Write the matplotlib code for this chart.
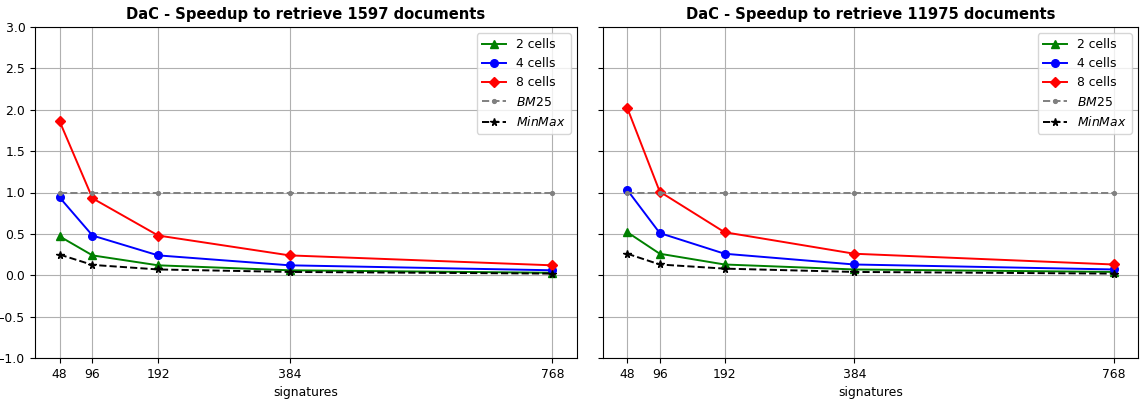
import matplotlib
matplotlib.use('Agg')
import matplotlib.pyplot as plt

signatures = [48, 96, 192, 384, 768]

# left: 1597 documents
left_2 = [0.47, 0.24, 0.12, 0.06, 0.03]
left_4 = [0.94, 0.48, 0.24, 0.12, 0.06]
left_8 = [1.86, 0.93, 0.48, 0.24, 0.12]
left_bm25 = [1.0, 1.0, 1.0, 1.0, 1.0]
left_minmax = [0.25, 0.125, 0.07, 0.04, 0.02]

# right: 11975 documents
right_2 = [0.52, 0.26, 0.13, 0.07, 0.04]
right_4 = [1.03, 0.51, 0.26, 0.13, 0.07]
right_8 = [2.02, 1.01, 0.52, 0.26, 0.13]
right_bm25 = [1.0, 1.0, 1.0, 1.0, 1.0]
right_minmax = [0.26, 0.13, 0.08, 0.04, 0.02]

titles = ['DaC - Speedup to retrieve 1597 documents',
          'DaC - Speedup to retrieve 11975 documents']

plt.rcParams['font.size'] = 8.9
plt.rcParams['lines.markersize'] = 5.5
plt.rcParams['lines.linewidth'] = 1.4

fig = plt.figure(figsize=(11.45, 3.99), dpi=100)
W, H = 1145, 399
ax1 = fig.add_axes([35 / W, 1 - 358 / H, (577 - 35) / W, (358 - 27) / H])
ax2 = fig.add_axes([603 / W, 1 - 358 / H, (1138 - 603) / W, (358 - 27) / H], sharey=ax1)

panels = [
    (ax1, left_2, left_4, left_8, left_bm25, left_minmax),
    (ax2, right_2, right_4, right_8, right_bm25, right_minmax),
]

for (ax, c2, c4, c8, bm, mm), title in zip(panels, titles):
    ax.plot(signatures, c2, color='g', marker='^', label='2 cells')
    ax.plot(signatures, c4, color='b', marker='o', label='4 cells')
    ax.plot(signatures, c8, color='r', marker='D', label='8 cells')
    ax.plot(signatures, bm, color='gray', linestyle='--', marker='.', label='$BM25$')
    ax.plot(signatures, mm, color='k', linestyle='--', marker='*', label='$MinMax$')
    ax.set_title(title, fontweight='bold', fontsize=10.6)
    ax.set_xlabel('signatures')
    ax.set_xticks(signatures)
    ax.set_ylim(-1.0, 3.0)
    ax.grid(True)
    ax.legend(loc='upper right')

plt.setp(ax2.get_yticklabels(), visible=False)

plt.savefig('out.png', dpi=100)
